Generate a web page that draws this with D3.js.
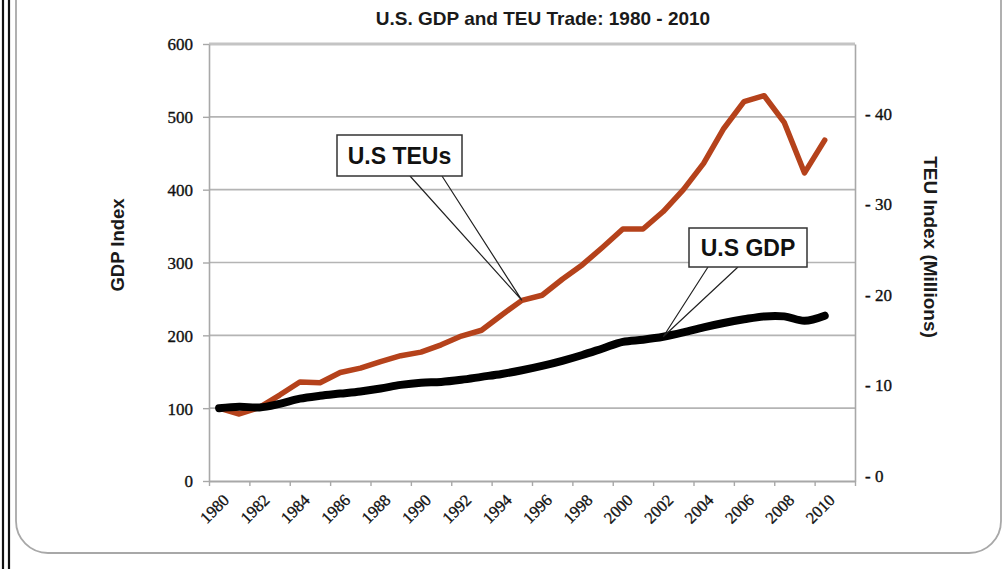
<!DOCTYPE html>
<html>
<head>
<meta charset="utf-8">
<script src="https://cdn.jsdelivr.net/npm/d3@7/dist/d3.min.js"></script>
<style>
body{margin:0;background:#fff;}
</style>
</head>
<body>
<svg id="chart" width="1003" height="569"></svg>
<script>
// values (index, 1980 = 100)
const years = [1980,1981,1982,1983,1984,1985,1986,1987,1988,1989,1990,1991,1992,1993,1994,1995,
               1996,1997,1998,1999,2000,2001,2002,2003,2004,2005,2006,2007,2008,2009,2010];
const gdpIndex = [100,102,101,106,113,117,120,123,127,132,135,136,139,143,147,152,
                  158,165,173,182,191,194,198,204,211,217,222,226,226,220,227];
const teuIndex = [100,92,101,118,136,135,149,155,164,172,177,187,199,207,228,248,
                  255,277,297,321,346,346,370,400,436,484,521,529,492,423,468];
const leftTicks = [0,100,200,300,400,500,600];
const rightTicks = [0,10,20,30,40];
const labelYears = [1980,1982,1984,1986,1988,1990,1992,1994,1996,1998,2000,2002,2004,2006,2008,2010];
const xTicks = [1979.5,1981.5,1983.5,1985.5,1987.5,1989.5,1991.5,1993.5,1995.5,1997.5,
                1999.5,2001.5,2003.5,2005.5,2007.5,2009.5,2011.5];

const SERIF = "'Liberation Serif', 'Times New Roman', Times, 'DejaVu Serif', serif";
const SANS = "'Liberation Sans', Arial, Helvetica, sans-serif";

const svg = d3.select("#chart");
const plot = {left:209, right:855, top:44, bottom:481};

//frame: double black rule at left and rounded panel
svg.append("line").attr("x1",3).attr("x2",3).attr("y1",0).attr("y2",569)
    .attr("stroke","#111").attr("stroke-width",2.2);
svg.append("line").attr("x1",9).attr("x2",9).attr("y1",0).attr("y2",569)
    .attr("stroke","#111").attr("stroke-width",2.2);
svg.append("rect").attr("x",16).attr("y",-50).attr("width",985).attr("height",603)
    .attr("rx",32).attr("fill","none").attr("stroke","#a8a8a8").attr("stroke-width",1.8);

const x = d3.scaleLinear().domain([1979.5,2011.5]).range([plot.left,plot.right]);
const y = d3.scaleLinear().domain([0,600]).range([plot.bottom,plot.top]);
const y2 = d3.scaleLinear().domain([-0.65,47.63]).range([plot.bottom,plot.top]);

//gridlines
svg.append("g").selectAll("line").data(leftTicks.filter(d => d > 0)).enter()
    .append("line")
    .attr("x1",plot.left).attr("x2",plot.right)
    .attr("y1",d => y(d)).attr("y2",d => y(d))
    .attr("stroke",d => d == 600 ? "#c4c4c4" : "#b4b4b4")
    .attr("stroke-width",d => d == 600 ? 3 : 1.6);

//left axis
const leftAxis = svg.append("g")
    .attr("transform","translate(" + plot.left + ",0)")
    .call(d3.axisLeft(y).tickValues(leftTicks).tickSize(6).tickPadding(10).tickSizeOuter(0));
leftAxis.select(".domain").attr("stroke","#a8a8a8").attr("stroke-width",1.6);
leftAxis.selectAll(".tick line").attr("stroke","#a8a8a8").attr("stroke-width",1.4);
leftAxis.selectAll("text").style("font-family",SERIF).attr("font-size",17)
    .attr("fill","#111").attr("stroke","#111").attr("stroke-width",0.35).attr("dy","0.35em");

//right axis
const rightAxis = svg.append("g")
    .attr("transform","translate(" + plot.right + ",0)")
    .call(d3.axisRight(y2).tickValues(rightTicks).tickSize(0).tickPadding(10).tickSizeOuter(0)
          .tickFormat(d => "- " + d));
rightAxis.select(".domain").attr("stroke","#a8a8a8").attr("stroke-width",1.6);
rightAxis.selectAll("text").style("font-family",SERIF).attr("font-size",17)
    .attr("fill","#111").attr("stroke","#111").attr("stroke-width",0.35).attr("dy","0.35em");

//bottom axis
const bottomAxis = svg.append("g")
    .attr("transform","translate(0," + plot.bottom + ")")
    .call(d3.axisBottom(x).tickValues(xTicks).tickSize(5).tickSizeOuter(0).tickFormat(""));
bottomAxis.select(".domain").attr("stroke","#a8a8a8").attr("stroke-width",2);
bottomAxis.selectAll(".tick line").attr("stroke","#a8a8a8").attr("stroke-width",1.4);

svg.append("g").selectAll("text").data(labelYears).enter()
    .append("text")
    .style("font-family",SERIF)
    .attr("transform",d => "translate(" + (x(d) + 7) + "," + (plot.bottom + 16) + ") rotate(-45)")
    .attr("text-anchor","end")
    .attr("dy","0.35em")
    .attr("font-size",16.5)
    .attr("fill","#111").attr("stroke","#111").attr("stroke-width",0.35)
    .text(d => d);

//titles
svg.append("text").style("font-family",SANS).attr("x",543).attr("y",25).attr("text-anchor","middle")
    .attr("font-weight","bold").attr("font-size",19)
    .attr("fill","#1a1a1a").text("U.S. GDP and TEU Trade: 1980 - 2010");
svg.append("text").style("font-family",SANS).attr("transform","translate(124,245) rotate(-90)")
    .attr("text-anchor","middle").attr("font-weight","bold").attr("font-size",18.5)
    .attr("fill","#1a1a1a").text("GDP Index");
svg.append("text").style("font-family",SANS).attr("transform","translate(924,247) rotate(90)")
    .attr("text-anchor","middle").attr("font-weight","bold").attr("font-size",19)
    .attr("fill","#1a1a1a").text("TEU Index (Millions)");

//lines
const teuLine = d3.line().x((d,i) => x(years[i])).y(d => y(d));
const gdpLine = d3.line().x((d,i) => x(years[i])).y(d => y(d)).curve(d3.curveCatmullRom);

svg.append("path").datum(teuIndex).attr("d",teuLine)
    .attr("fill","none").attr("stroke","#b5421b").attr("stroke-width",5.5)
    .attr("stroke-linejoin","round").attr("stroke-linecap","round");
svg.append("path").datum(gdpIndex).attr("d",gdpLine)
    .attr("fill","none").attr("stroke","#000").attr("stroke-width",8)
    .attr("stroke-linejoin","round").attr("stroke-linecap","round");

//callouts
function callout(label,bx,by,bw,bh,p1,p2,year,value){
    var g = svg.append("g");
    var tx = x(year), ty = y(value);
    g.append("polyline")
	.attr("points",[[bx+p1,by+bh],[tx,ty],[bx+p2,by+bh]].join(" "))
	.attr("fill","none").attr("stroke","#222").attr("stroke-width",1.2);
    g.append("rect").attr("x",bx).attr("y",by).attr("width",bw).attr("height",bh)
	.attr("fill","#fff").attr("stroke","#333").attr("stroke-width",1.5);
    g.append("text").style("font-family",SANS).attr("x",bx+bw/2).attr("y",by+bh/2).attr("dy","0.36em")
	.attr("text-anchor","middle")
	.attr("font-weight","bold").attr("font-size",23).attr("fill","#111").text(label);
}
callout("U.S TEUs",337,135,125,41,73,105,1995,teuIndex[15]);
callout("U.S GDP",689,228,118,39,19,49,2002,gdpIndex[22]);
</script>
</body>
</html>
